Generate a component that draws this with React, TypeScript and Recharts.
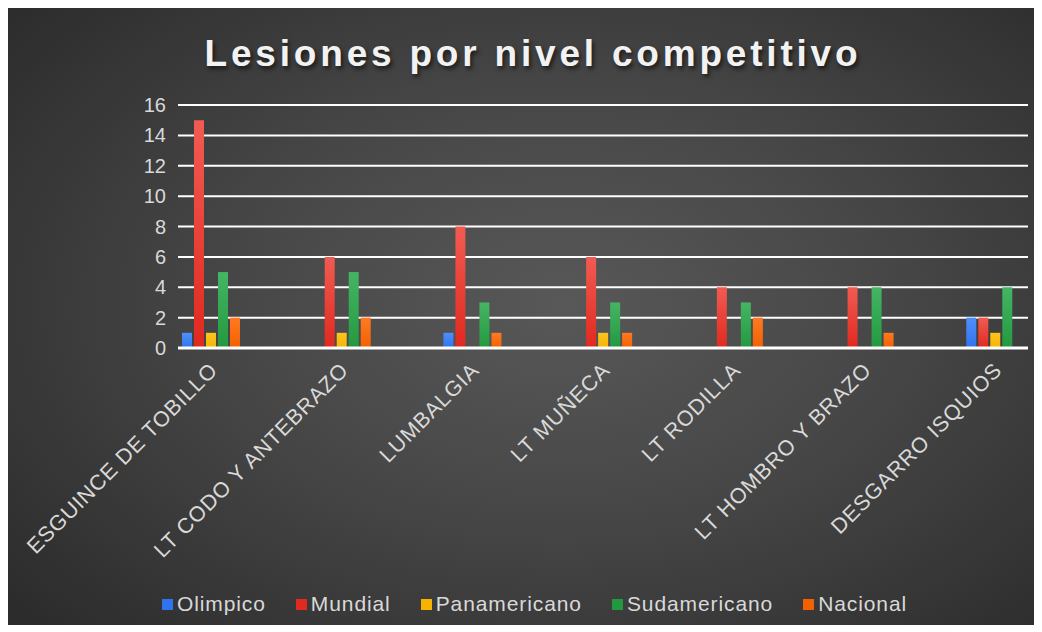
import React from "react";
import { BarChart, Bar, XAxis, YAxis, CartesianGrid, Legend } from "recharts";

const categories = [
  "ESGUINCE DE TOBILLO",
  "LT CODO Y ANTEBRAZO",
  "LUMBALGIA",
  "LT MUÑECA",
  "LT RODILLA",
  "LT HOMBRO Y BRAZO",
  "DESGARRO ISQUIOS",
];

const olimpico = [1, 0, 1, 0, 0, 0, 2];
const mundial = [15, 6, 8, 6, 4, 4, 2];
const panamericano = [1, 1, 0, 1, 0, 0, 1];
const sudamericano = [5, 5, 3, 3, 3, 4, 4];
const nacional = [2, 2, 1, 1, 2, 1, 0];

const yTicks = [0, 2, 4, 6, 8, 10, 12, 14, 16];

const series = [
  { key: "Olimpico", values: olimpico, top: "#4f8ff9", bottom: "#2f74ee" },
  { key: "Mundial", values: mundial, top: "#f25b52", bottom: "#e0291f" },
  { key: "Panamericano", values: panamericano, top: "#fcc520", bottom: "#f6b400" },
  { key: "Sudamericano", values: sudamericano, top: "#45b565", bottom: "#23993f" },
  { key: "Nacional", values: nacional, top: "#ff7a22", bottom: "#f26000" },
];

const data = categories.map((name, i) => {
  const row: Record<string, any> = { name };
  series.forEach((s) => {
    row[s.key] = s.values[i];
  });
  return row;
});

const FONT = "'Liberation Sans', Arial, sans-serif";
const TEXT = "#d9d9d9";

const CategoryTick = ({ x, y, payload }: any) => (
  <g transform={`translate(${x + 2},${y + 10})`}>
    <text
      x={0}
      y={0}
      dy={8}
      textAnchor="end"
      transform="rotate(-45)"
      fill={TEXT}
      fontSize={21.5}
      fontFamily={FONT}
      letterSpacing={0.8}
    >
      {payload.value}
    </text>
  </g>
);

const LegendContent = () => (
  <div
    style={{
      display: "flex",
      justifyContent: "center",
      alignItems: "center",
      marginLeft: 33,
      paddingTop: 14,
      fontFamily: FONT,
      fontSize: 21,
      letterSpacing: 0.9,
      color: TEXT,
    }}
  >
    {series.map((s, i) => (
      <div
        key={s.key}
        style={{ display: "flex", alignItems: "center", marginRight: i < 4 ? 30 : 0 }}
      >
        <span
          style={{
            width: 11,
            height: 11,
            background: s.bottom,
            marginRight: 4,
            display: "inline-block",
          }}
        />
        <span>{s.key}</span>
      </div>
    ))}
  </div>
);

export default function App() {
  return (
    <div
      style={{
        position: "relative",
        width: 1026,
        height: 617,
        background:
          "radial-gradient(ellipse 70% 75% at 54% 48%, #585858 0%, #474747 45%, #2c2c2c 100%)",
      }}
    >
      <div
        style={{
          position: "absolute",
          top: 25,
          left: 12,
          width: 1026,
          textAlign: "center",
          fontFamily: FONT,
          fontWeight: "bold",
          fontSize: 37,
          letterSpacing: 3.8,
          color: "#f2f2f2",
          textShadow: "2px 3px 4px rgba(0,0,0,0.6)",
        }}
      >
        Lesiones por nivel competitivo
      </div>
      <BarChart
        width={1026}
        height={617}
        data={data}
        margin={{ top: 97, right: 6, left: 0, bottom: 0 }}
        barSize={10}
        barGap={2}
      >
        <defs>
          {series.map((s) => (
            <linearGradient key={s.key} id={`g-${s.key}`} x1="0" y1="0" x2="0" y2="1">
              <stop offset="0%" stopColor={s.top} />
              <stop offset="100%" stopColor={s.bottom} />
            </linearGradient>
          ))}
        </defs>
        <CartesianGrid vertical={false} stroke="#ffffff" strokeWidth={2} />
        <XAxis
          dataKey="name"
          height={230}
          interval={0}
          padding={{ left: -32, right: -33 }}
          axisLine={{ stroke: "#ffffff", strokeWidth: 3 }}
          tickLine={false}
          tick={<CategoryTick />}
        />
        <YAxis
          width={170}
          domain={[0, 16]}
          ticks={yTicks}
          interval={0}
          axisLine={false}
          tickLine={false}
          tickSize={0}
          tickMargin={12}
          tick={{ fill: TEXT, fontSize: 20, fontFamily: FONT }}
        />
        <Legend verticalAlign="bottom" height={47} content={<LegendContent />} />
        {series.map((s) => (
          <Bar
            key={s.key}
            dataKey={s.key}
            fill={`url(#g-${s.key})`}
            isAnimationActive={false}
          />
        ))}
      </BarChart>
    </div>
  );
}
